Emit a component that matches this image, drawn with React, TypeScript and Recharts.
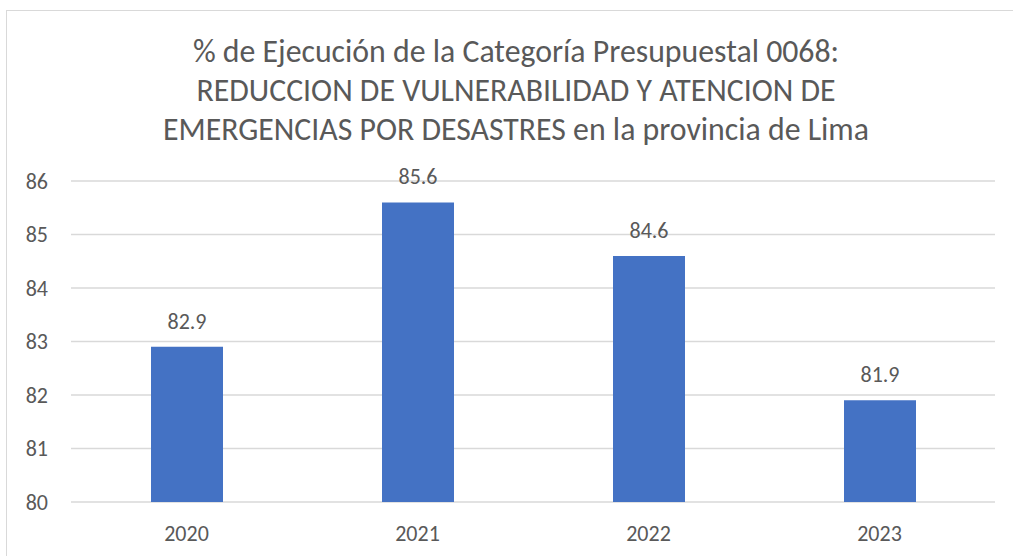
import React from 'react';
import { BarChart, Bar, XAxis, YAxis, CartesianGrid, LabelList } from 'recharts';

const years = ['2020', '2021', '2022', '2023'];
const ejecucion = [82.9, 85.6, 84.6, 81.9];
const yTicks = [80, 81, 82, 83, 84, 85, 86];
const titleLines = [
  '% de Ejecución de la Categoría Presupuestal 0068:',
  'REDUCCION DE VULNERABILIDAD Y ATENCION DE',
  'EMERGENCIAS POR DESASTRES en la provincia de Lima',
];

const data = years.map((y, i) => ({ year: y, value: ejecucion[i] }));

const FONT = 'Carlito, Lato, sans-serif';
const GRAY = '#595959';

export default function App() {
  return (
    <div
      style={{
        position: 'fixed',
        left: 6,
        top: 10,
        width: 1020,
        height: 560,
        border: '1px solid #d9d9d9',
        background: '#fff',
        fontFamily: FONT,
      }}
    >
      <svg
        width={1020}
        height={160}
        style={{ position: 'absolute', left: 0, top: 0, pointerEvents: 'none' }}
      >
        {titleLines.map((t, i) => (
          <text
            key={i}
            x={509}
            y={50.5 + i * 39.3}
            textAnchor="middle"
            fill={GRAY}
            fontSize={31.8}
            fontFamily={FONT}
          >
            {t}
          </text>
        ))}
      </svg>
      <div style={{ position: 'absolute', left: 0, top: 0 }}>
        <BarChart
          width={1012}
          height={560}
          data={data}
          margin={{ top: 170, right: 24, bottom: 29, left: 0 }}
          barSize={72}
        >
          <CartesianGrid vertical={false} stroke="#d9d9d9" strokeWidth={1.3} />
          <XAxis
            dataKey="year"
            axisLine={false}
            tickLine={false}
            tickSize={0}
            tickMargin={23}
            height={40}
            tick={{ fill: GRAY, fontSize: 22, fontFamily: FONT }}
          />
          <YAxis
            domain={[80, 86]}
            ticks={yTicks}
            allowDataOverflow
            axisLine={false}
            tickLine={false}
            tickSize={0}
            tickMargin={23}
            width={64}
            tick={{ fill: GRAY, fontSize: 22, fontFamily: FONT }}
          />
          <Bar dataKey="value" fill="#4472C4" isAnimationActive={false}>
            <LabelList
              dataKey="value"
              position="top"
              offset={18}
              fill={GRAY}
              fontSize={22}
              fontFamily={FONT}
            />
          </Bar>
        </BarChart>
      </div>
    </div>
  );
}
